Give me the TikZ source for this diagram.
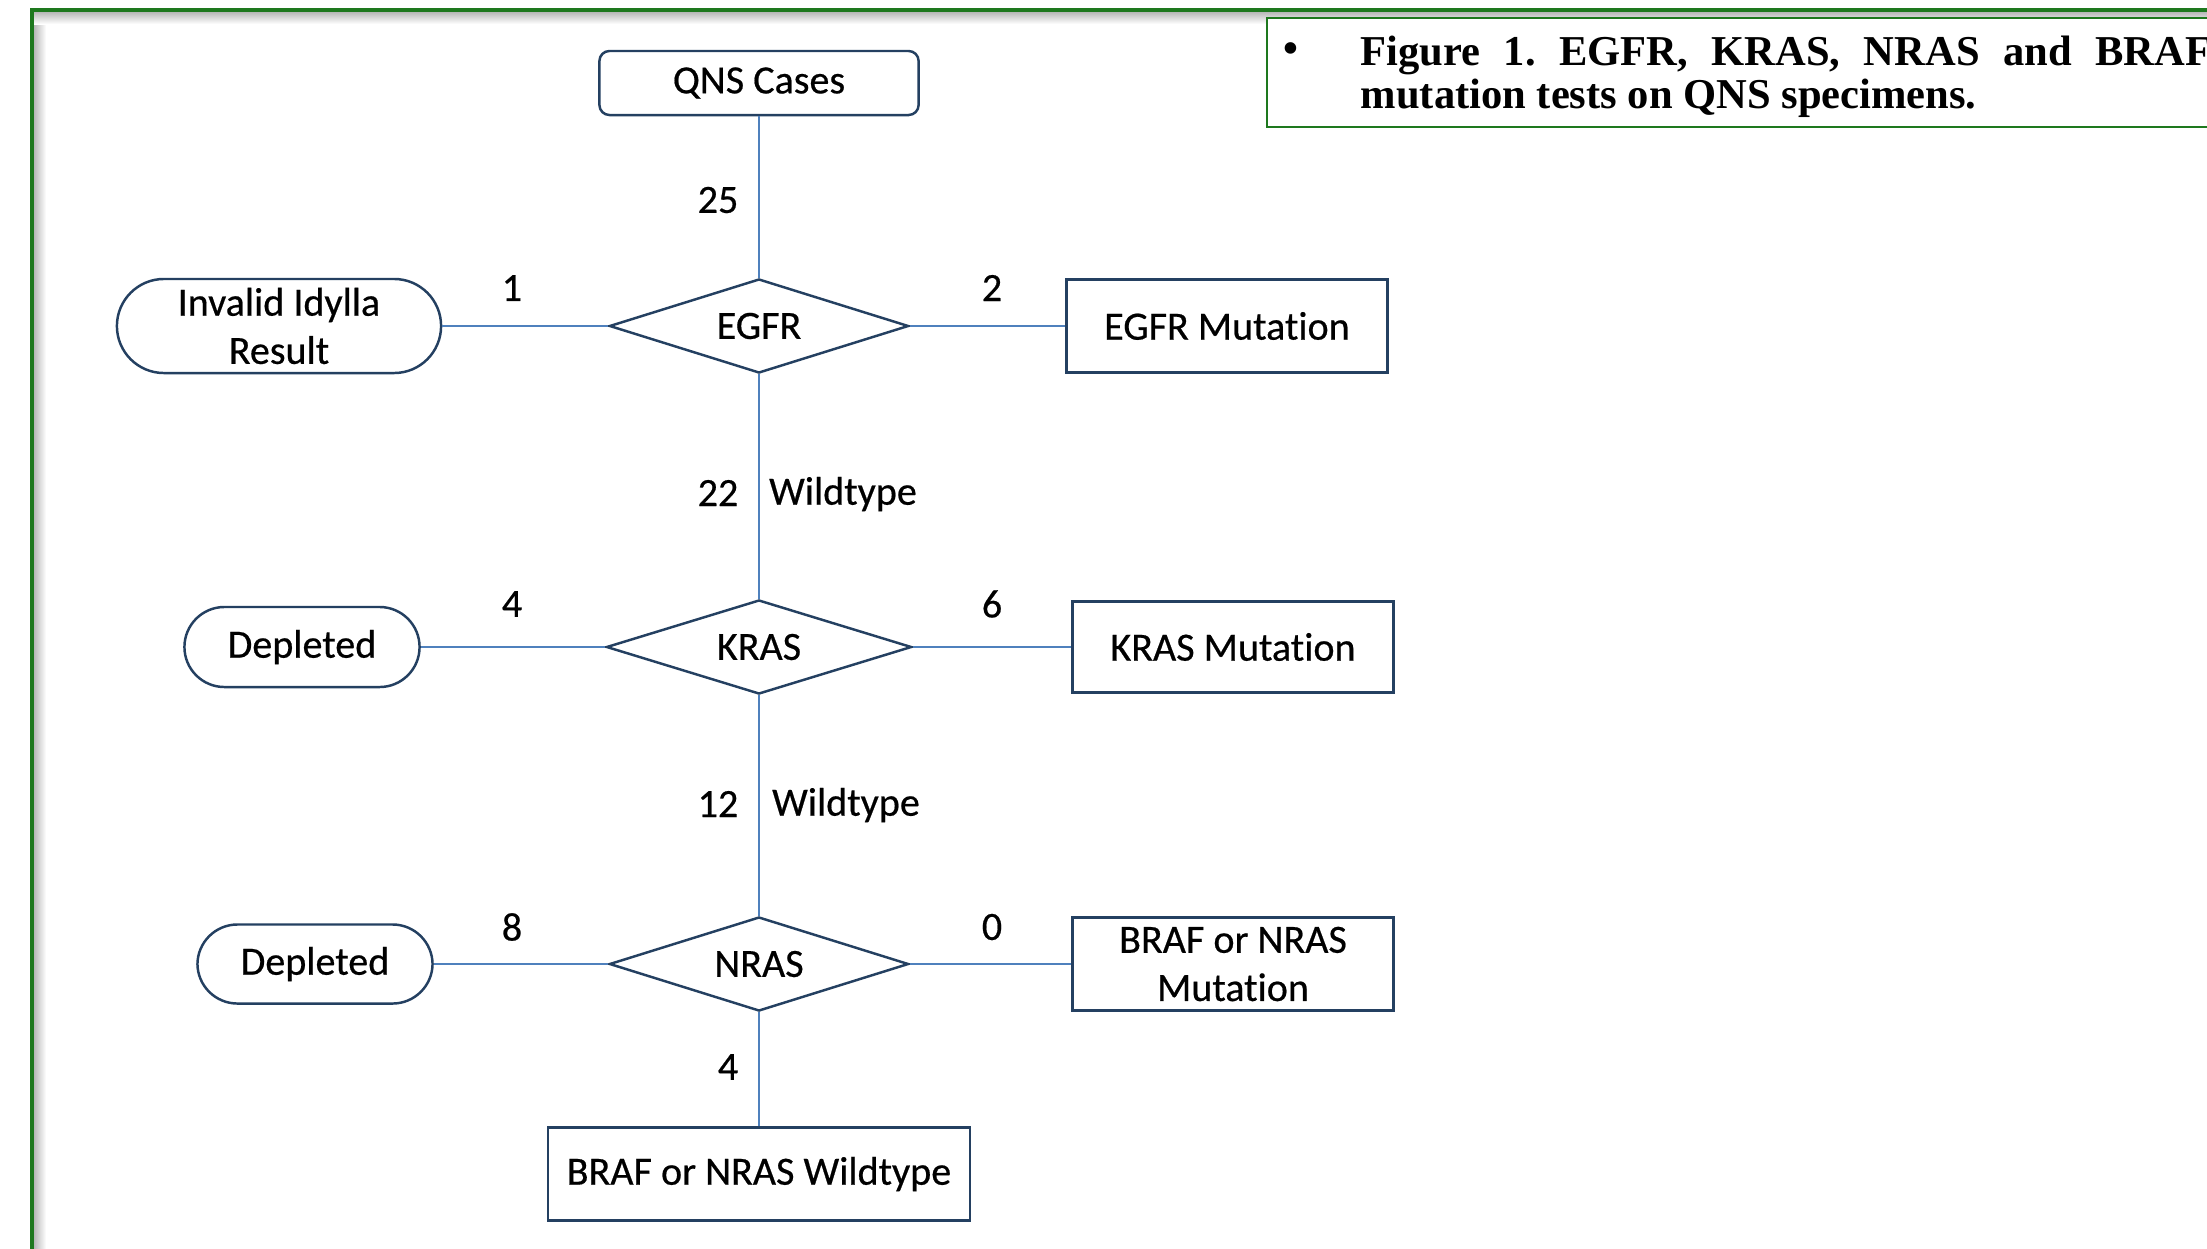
\documentclass[tikz,border=0pt]{standalone}
\usepackage{fontspec}
\setmainfont{Carlito}[Ligatures=NoCommon, FakeBold=0.5]
\newfontfamily\capfont{Liberation Serif}
\usetikzlibrary{shapes.geometric}
\definecolor{frameGreen}{RGB}{30,120,30}
\definecolor{lineBlue}{RGB}{79,129,189}
\definecolor{boxNavy}{RGB}{36,64,97}
\begin{document}
\frenchspacing
\begin{tikzpicture}[x=0.01cm,y=-0.01cm,
  every node/.style={font=\fontsize{11.4}{13.7}\selectfont, text=black},
  rectbox/.style={draw=boxNavy, line width=0.7pt, inner sep=0pt, align=center, fill=white},
  roundbox/.style={rectbox, rounded corners=0.1cm},
  stadium/.style={rectbox, rounded corners=#1},
  decision/.style={diamond, draw=boxNavy, line width=0.7pt, inner sep=0pt, aspect=3.2,
    minimum width=2.99cm, minimum height=0.94cm, fill=white},
  conn/.style={draw=lineBlue, line width=0.7pt},
  lbl/.style={inner sep=1pt},
  capstyle/.style={font=\capfont\bfseries\fontsize{12.1}{14}\selectfont, inner sep=0pt}
]
\useasboundingbox (0,0) rectangle (2207,1248);
\clip (0,0) rectangle (2207,1248);
\fill[white] (0,0) rectangle (2207,1248);
% outer frame with shadow
\shade[left color=black!30, right color=white] (33,11) rectangle (46,1260);
\shade[top color=black!30, bottom color=white] (33,11) rectangle (2230,24);
\draw[frameGreen, line width=0.9pt] (32,1260) -- (32,10) -- (2230,10);
% caption box
\draw[frameGreen, line width=0.8pt, fill=white] (1267,18) rectangle (2240,127);
\node[capstyle, anchor=base] (bul) at (1291,62) {\textbullet};
\node[capstyle, anchor=base west] (cap1) at (1360,65) {\makebox[8.5cm][s]{Figure 1. EGFR, KRAS, NRAS and BRAF}};
\node[capstyle, anchor=base west] (cap2) at (1360,108) {mutation tests on QNS specimens.};
% nodes
\node[roundbox, minimum width=3.19cm, minimum height=0.64cm] (qns) at (759,83) {\raisebox{-1pt}{QNS Cases}};
\node[decision] (egfr) at (759,326) {EGFR};
\node[stadium=0.47cm, minimum width=3.24cm, minimum height=0.94cm] (inv) at (279,326) {Invalid Idylla\\Result};
\node[rectbox, minimum width=3.21cm, minimum height=0.93cm] (egfrm) at (1227,326) {EGFR Mutation};
\node[decision, minimum width=3.05cm] (kras) at (759,647) {KRAS};
\node[stadium=0.4cm, minimum width=2.35cm, minimum height=0.80cm] (dep1) at (302,647) {Depleted};
\node[rectbox, minimum width=3.21cm, minimum height=0.91cm] (krasm) at (1233,647) {KRAS Mutation};
\node[decision] (nras) at (759,964) {NRAS};
\node[stadium=0.4cm, minimum width=2.35cm, minimum height=0.79cm] (dep2) at (315,964) {Depleted};
\node[rectbox, minimum width=3.21cm, minimum height=0.93cm] (nrasm) at (1233,964) {BRAF or NRAS\\Mutation};
\node[rectbox, minimum width=4.22cm, minimum height=0.93cm] (wt) at (759,1174) {BRAF or NRAS Wildtype};
% connectors
\draw[conn] (qns) -- (egfr);
\draw[conn] (egfr) -- (inv);
\draw[conn] (egfr) -- (egfrm);
\draw[conn] (egfr) -- (kras);
\draw[conn] (kras) -- (dep1);
\draw[conn] (kras) -- (krasm);
\draw[conn] (kras) -- (nras);
\draw[conn] (nras) -- (dep2);
\draw[conn] (nras) -- (nrasm);
\draw[conn] (nras) -- (wt);
% labels
\node[lbl] (l25) at (718,200) {25};
\node[lbl] (l1) at (512,288) {1};
\node[lbl] (l2) at (992,288) {2};
\node[lbl] (l22) at (718,493) {22};
\node[lbl] (lw1) at (843,494) {Wildtype};
\node[lbl] (l4a) at (512,604) {4};
\node[lbl] (l6) at (992,604) {6};
\node[lbl] (l12) at (718,804) {12};
\node[lbl] (lw2) at (846,805) {Wildtype};
\node[lbl] (l8) at (512,927) {8};
\node[lbl] (l0) at (992,927) {0};
\node[lbl] (l4b) at (728,1067) {4};
\end{tikzpicture}
\end{document}
